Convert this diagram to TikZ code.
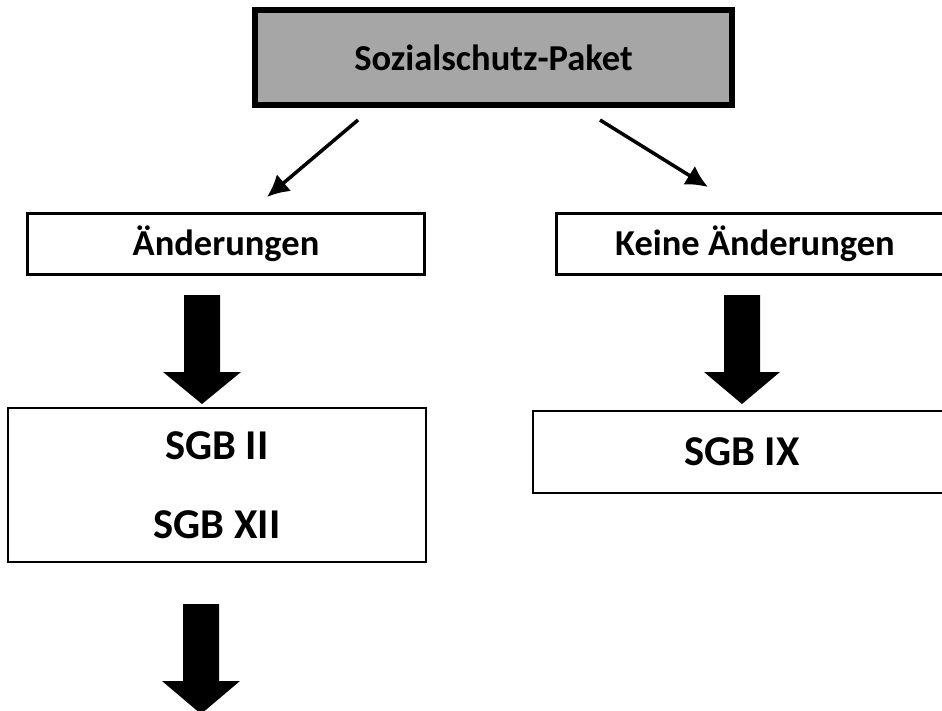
\documentclass[tikz,border=0pt]{standalone}
\usepackage{fontspec}
\setmainfont{Carlito}
\usetikzlibrary{arrows.meta}
\definecolor{boxgray}{RGB}{166,166,166}
\tikzset{
  lbl/.style={font=\fontsize{36.5bp}{44bp}\selectfont\bfseries, align=center, inner sep=0pt},
  biglbl/.style={font=\fontsize{42.5bp}{79bp}\selectfont\bfseries, align=center, inner sep=0pt},
  thinbox/.style={draw=black, line width=2.2bp, fill=white, inner sep=0pt},
  topbox/.style={draw=black, line width=5.5bp, fill=boxgray, inner sep=0pt},
  thinarrow/.style={line width=3.5bp, -{Latex[length=22bp,width=22bp]}},
  blockarrow/.style={fill=black, draw=none},
}
\begin{document}
\begin{tikzpicture}[x=1bp,y=-1bp]
\useasboundingbox (0,0) rectangle (942,711);
\clip (0,0) rectangle (942,711);
\node[topbox, lbl, minimum width=477bp, minimum height=95bp] (top) at (493.5,57.5) {Sozialschutz-Paket};
\node[thinbox, lbl, minimum width=397bp, minimum height=61bp] (aend) at (226,244) {Änderungen};
\node[thinbox, lbl, minimum width=397bp, minimum height=61bp] (keine) at (755,244) {Keine Änderungen};
\node[thinbox, biglbl, minimum width=418bp, minimum height=154bp] (sgb) at (217,485) {SGB II\\SGB XII};
\node[thinbox, biglbl, minimum width=418bp, minimum height=82bp] (sgbix) at (742,452) {SGB IX};
\coordinate (la) at (358,120);
\coordinate (lb) at (267,197);
\coordinate (ra) at (600,120);
\coordinate (rb) at (708,187);
\draw[thinarrow] (la) -- (lb);
\draw[thinarrow] (ra) -- (rb);
% block arrows
\fill[blockarrow] (184,295) -- (220,295) -- (220,372) -- (241,372) -- (202,404) -- (163,372) -- (184,372) -- cycle;
\fill[blockarrow] (724,295) -- (760,295) -- (760,372) -- (780,372) -- (742,404) -- (704,372) -- (724,372) -- cycle;
\fill[blockarrow] (183,604) -- (219,604) -- (219,681) -- (240,681) -- (201,714) -- (162,681) -- (183,681) -- cycle;
\end{tikzpicture}
\end{document}
